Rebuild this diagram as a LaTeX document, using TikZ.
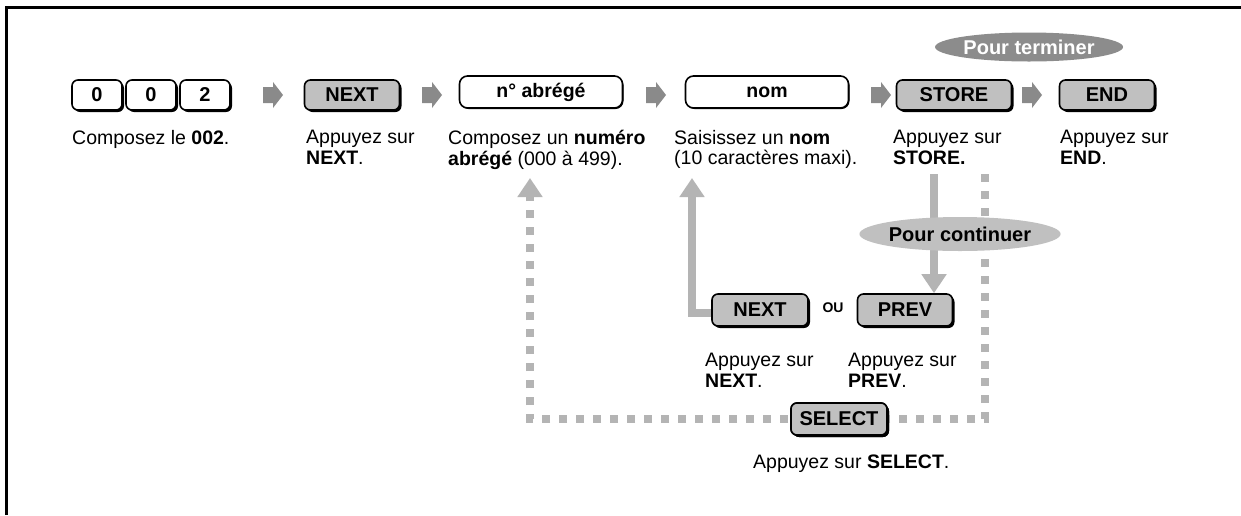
\documentclass[tikz,border=0pt]{standalone}
\usepackage{fontspec}
\setmainfont{Liberation Sans}
\usetikzlibrary{shapes.geometric,shadows,arrows.meta,calc}
\definecolor{keygray}{RGB}{192,192,192}
\definecolor{chevgray}{RGB}{138,138,138}
\definecolor{flowgray}{RGB}{180,180,180}
\definecolor{ovaldark}{RGB}{140,140,140}
\begin{document}
\begin{tikzpicture}[x=1pt,y=-1pt,
  key/.style={draw=black, line width=1.6pt, rounded corners=6pt, fill=keygray,
    minimum height=30pt, inner sep=0pt,
    font=\fontsize{20}{20}\selectfont\bfseries,
    general shadow={fill=black, shadow xshift=2pt, shadow yshift=-2pt}},
  wkey/.style={key, fill=white},
  wbox/.style={draw=black, line width=1.6pt, rounded corners=8pt, fill=white,
    minimum height=32pt, inner sep=0pt,
    font=\fontsize{19.5}{19.5}\selectfont\bfseries,
    general shadow={fill=black, shadow xshift=1pt, shadow yshift=-1pt}},
  chevron/.pic={\fill[chevgray] (-10,-8) -- (0,-8) -- (0,-13) -- (10,0) -- (0,13) -- (0,8) -- (-10,8) -- cycle;},
  desc/.style={anchor=north west, inner sep=0pt, align=left,
    font=\fontsize{19.5}{20.5}\selectfont},
  flow/.style={draw=flowgray, line width=8pt, -{Triangle[width=24pt,length=19pt]}},
  dflow/.style={flow, dash pattern=on 8pt off 9pt},
  oval/.style={ellipse, inner sep=0pt, font=\fontsize{20}{20}\selectfont\bfseries}
]
\useasboundingbox (0,0) rectangle (1241,515);
\fill[white] (0,0) rectangle (1241,515);
\draw[line width=3pt] (6,515) -- (6,7) -- (1241,7);

% top row
\node[wkey, minimum width=50pt] (d1) at (97,95) {0};
\node[wkey, minimum width=50pt] (d2) at (151,95) {0};
\node[wkey, minimum width=50pt] (d3) at (205,95) {2};
\pic at (273,95) {chevron};
\node[key, minimum width=95pt] (next) at (352,95) {NEXT};
\pic at (432,95) {chevron};
\node[wbox, minimum width=163pt] (abr) at (541,92) {n° abrégé};
\pic at (656,95) {chevron};
\node[wbox, minimum width=163pt] (nom) at (767,92) {nom};
\pic at (881,95) {chevron};
\node[key, minimum width=115pt] (store) at (954,95) {STORE};
\pic at (1032,95) {chevron};
\node[key, minimum width=95pt] (end) at (1107,95) {END};

\node[oval, fill=ovaldark, text=white, minimum width=188pt, minimum height=29pt]
  (term) at (1029,47) {Pour terminer};

% descriptions
\node[desc] (t1) at (72,130) {Composez le \textbf{002}.};
\node[desc] (t2) at (306,130) {Appuyez sur\\\textbf{NEXT}.};
\node[desc] (t3) at (448,130) {Composez un \textbf{numéro}\\\textbf{abrégé} (000 à 499).};
\node[desc] (t4) at (674,130) {Saisissez un \textbf{nom}\\(10 caractères maxi).};
\node[desc] (t5) at (893,130) {Appuyez sur\\\textbf{STORE.}};
\node[desc] (t6) at (1060,130) {Appuyez sur\\\textbf{END}.};

% lower part
\node[key, minimum width=96pt, minimum height=32pt] (next2) at (760,310) {NEXT};
\node[inner sep=0pt, font=\fontsize{14}{14}\selectfont\bfseries] (ou) at (833,308) {OU};
\node[key, minimum width=95pt, minimum height=32pt] (prev) at (905,310) {PREV};
\node[desc] (t7) at (705,353) {Appuyez sur\\\textbf{NEXT}.};
\node[desc] (t8) at (848,353) {Appuyez sur\\\textbf{PREV}.};
\node[key, minimum width=96pt, minimum height=32pt] (select) at (839,419) {SELECT};
\node[desc] (t9) at (753,455) {Appuyez sur \textbf{SELECT}.};

\coordinate (dstart) at (985,174);
\coordinate (dcorner1) at (985,419);
\coordinate (dcorner2) at (530,419);
\coordinate (dend) at (530,178);
\coordinate (sstart) at (934,174);
\coordinate (lcorner) at (692,313);
\coordinate (lend) at (692,178);

\draw[dflow] (dstart) -- (dcorner1) -- (dcorner2) -- (dend);
\draw[flow] (sstart) -- (sstart |- prev.north);
\draw[flow] (next2.west |- lcorner) -- (lcorner) -- (lend);

% redraw SELECT above dashes
\node[key, minimum width=96pt, minimum height=32pt] at (select) {SELECT};
\node[oval, fill=keygray, text=black, minimum width=156pt, minimum height=34pt]
  (cont) at (960,234) {Pour continuer};
\end{tikzpicture}
\end{document}
